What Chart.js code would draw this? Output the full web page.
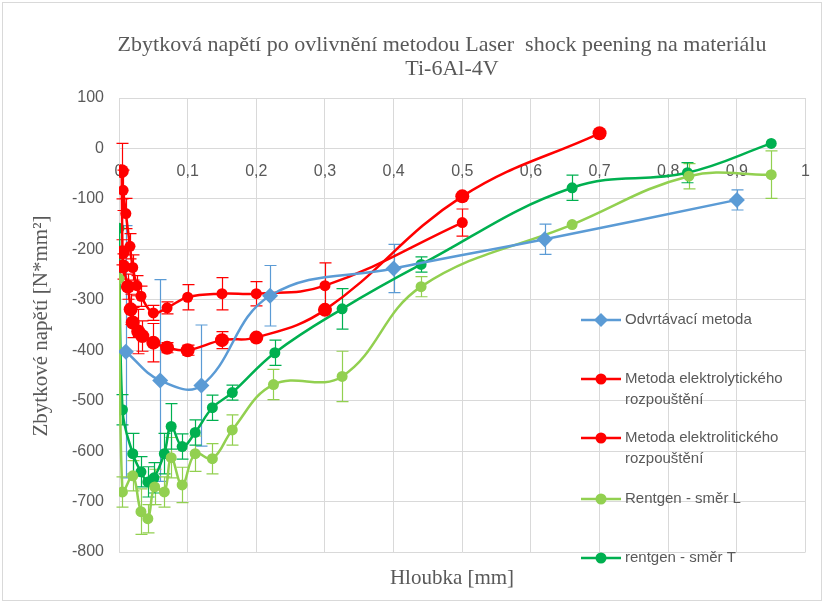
<!DOCTYPE html>
<html>
<head>
<meta charset="utf-8">
<script src="https://cdn.jsdelivr.net/npm/chart.js@4.4.0/dist/chart.umd.min.js"></script>
<style>
    html, body { margin: 0; padding: 0; background: #fff; }
</style>
</head>
<body>
<canvas id="napeti" width="824" height="603"></canvas>
<script>
    "use strict";

    // Data: depth [mm], stress [N*mm2], error (+/-)
    var odvrtX = [0.01, 0.06, 0.12, 0.22, 0.40, 0.62, 0.90];
    var odvrtY = [-403, -460, -470, -292, -238, -180, -102];
    var odvrtErr = [250, 200, 120, 60, 48, 30, 20];

    var elYtX = [0.004, 0.005, 0.006, 0.013, 0.017, 0.02, 0.028, 0.034, 0.05, 0.07, 0.1, 0.15, 0.2, 0.3, 0.5, 0.7];
    var elYtY = [-45, -206, -234, -274, -319, -345, -363, -372, -385, -395, -400, -380, -375, -320, -95, 30];
    var elYtErr = [55, 25, 25, 25, 30, 30, 44, 30, 38, 10, 10, 17, 0, 0, 0, 0];

    var elItX = [0.006, 0.01, 0.016, 0.02, 0.026, 0.032, 0.05, 0.07, 0.1, 0.15, 0.2, 0.3, 0.5];
    var elItY = [-83, -129, -194, -236, -272, -293, -326, -316, -295, -288, -288, -272, -147];
    var elItErr = [40, 30, 25, 25, 20, 20, 15, 12, 25, 32, 24, 45, 27];

    var rentLX = [0, 0.005, 0.02, 0.032, 0.042, 0.052, 0.066, 0.076, 0.092, 0.111, 0.136, 0.165, 0.225, 0.325, 0.44, 0.66, 0.83, 0.95];
    var rentLY = [-258, -681, -649, -720, -734, -671, -681, -613, -667, -605, -615, -558, -468, -452, -274, -151, -55, -52];
    var rentLErr = [0, 30, 30, 45, 28, 35, 30, 40, 35, 35, 30, 30, 30, 50, 20, 0, 25, 47];

    var rentTX = [0, 0.005, 0.02, 0.032, 0.042, 0.051, 0.066, 0.076, 0.092, 0.111, 0.136, 0.165, 0.227, 0.325, 0.44, 0.66, 0.828, 0.95];
    var rentTY = [-158, -518, -605, -641, -661, -653, -605, -551, -591, -563, -514, -484, -405, -318, -230, -78, -48, 10];
    var rentTErr = [0, 30, 40, 30, 30, 30, 40, 45, 25, 25, 25, 15, 25, 40, 15, 25, 20, 0];

    var labels = ["Odvrtávací metoda", "Metoda elektrolytického rozpouštění",
        "Metoda elektrolitického rozpouštění", "Rentgen - směr L", "rentgen - směr T"];
    var yTickMin = -800, yTickMax = 100, yStep = 100;
    var xTickMin = 0, xTickMax = 1, xStep = 0.1;

    var grey = '#595959';

    function points(xs, ys) {
        return xs.map(function (x, i) { return { x: x, y: ys[i] }; });
    }

    function series(label, xs, ys, errs, color, style, radius) {
        return {
            label: label,
            data: points(xs, ys),
            errors: errs,
            showLine: true,
            borderColor: color,
            backgroundColor: color,
            borderWidth: 2.5,
            pointStyle: style,
            pointRadius: radius,
            pointBorderWidth: 0,
            tension: 0.4
        };
    }

    // error bars, titles, legend and frame
    var extras = {
        id: 'extras',
        beforeDatasetsDraw: function (chart) {
            var ctx = chart.ctx, sx = chart.scales.x, sy = chart.scales.y;
            chart.data.datasets.forEach(function (ds) {
                ctx.save();
                ctx.strokeStyle = ds.borderColor;
                ctx.lineWidth = 1.2;
                ds.data.forEach(function (p, i) {
                    var e = ds.errors[i];
                    if (!e) return;
                    var px = Math.round(sx.getPixelForValue(p.x)) + 0.5;
                    var top = sy.getPixelForValue(p.y + e);
                    var bot = sy.getPixelForValue(p.y - e);
                    ctx.beginPath();
                    ctx.moveTo(px, top); ctx.lineTo(px, bot);
                    ctx.moveTo(px - 6, top); ctx.lineTo(px + 6, top);
                    ctx.moveTo(px - 6, bot); ctx.lineTo(px + 6, bot);
                    ctx.stroke();
                });
                ctx.restore();
            });
        },
        afterDraw: function (chart) {
            var ctx = chart.ctx;
            ctx.save();

            // frame
            ctx.strokeStyle = '#D9D9D9';
            ctx.lineWidth = 1;
            ctx.strokeRect(2.5, 2.5, 819, 598);

            // title
            ctx.fillStyle = grey;
            ctx.textAlign = 'center';
            ctx.textBaseline = 'alphabetic';
            ctx.font = '22px "Liberation Serif"';
            ctx.fillText('Zbytková napětí po ovlivnění metodou Laser  shock peening na materiálu', 442, 51, 650);
            ctx.fillText('Ti-6Al-4V', 452, 75);

            // axis titles
            ctx.font = '21px "Liberation Serif"';
            ctx.fillText('Hloubka [mm]', 452, 584);
            ctx.translate(47, 326);
            ctx.rotate(-Math.PI / 2);
            ctx.fillText('Zbytkové napětí [N*mm²]', 0, 0);
            ctx.setTransform(1, 0, 0, 1, 0, 0);

            // legend
            var rows = [320, 379, 438, 499, 558];
            ctx.font = '15px "Liberation Sans"';
            ctx.textAlign = 'left';
            ctx.textBaseline = 'middle';
            chart.data.datasets.forEach(function (ds, i) {
                var y = rows[i];
                ctx.strokeStyle = ds.borderColor;
                ctx.fillStyle = ds.borderColor;
                ctx.lineWidth = 2.5;
                ctx.beginPath();
                ctx.moveTo(581, y); ctx.lineTo(621, y);
                ctx.stroke();
                ctx.beginPath();
                if (ds.pointStyle === 'rectRot') {
                    ctx.moveTo(601, y - 7); ctx.lineTo(608, y); ctx.lineTo(601, y + 7); ctx.lineTo(594, y);
                } else {
                    ctx.arc(601, y, 5.5, 0, Math.PI * 2);
                }
                ctx.closePath();
                ctx.fill();
                ctx.fillStyle = grey;
                var words = ds.label.split(' ');
                if (words.length === 3 && words[0] === 'Metoda') {
                    ctx.fillText(words[0] + ' ' + words[1], 625, y);
                    ctx.fillText(words[2], 625, y + 21);
                } else {
                    ctx.fillText(ds.label, 625, y);
                }
            });
            ctx.restore();
        }
    };

    var chart = new Chart(document.getElementById('napeti').getContext('2d'), {
        type: 'scatter',
        data: {
            datasets: [
                series(labels[0], odvrtX, odvrtY, odvrtErr, '#5B9BD5', 'rectRot', 8),
                series(labels[1], elYtX, elYtY, elYtErr, '#FF0000', 'circle', 7),
                series(labels[2], elItX, elItY, elItErr, '#FF0000', 'circle', 5.5),
                series(labels[3], rentLX, rentLY, rentLErr, '#92D050', 'circle', 5.5),
                series(labels[4], rentTX, rentTY, rentTErr, '#00B050', 'circle', 5.5)
            ]
        },
        options: {
            responsive: false,
            animation: false,
            devicePixelRatio: 1,
            layout: { padding: { left: 59, right: 12, top: 98, bottom: 51 } },
            plugins: {
                legend: { display: false },
                title: { display: false },
                tooltip: { enabled: false }
            },
            scales: {
                x: {
                    type: 'linear',
                    min: xTickMin,
                    max: xTickMax,
                    position: { y: 0 },
                    grid: { color: '#D9D9D9', drawTicks: false },
                    border: { color: '#D9D9D9' },
                    ticks: {
                        stepSize: xStep,
                        padding: 14,
                        color: grey,
                        font: { family: 'Liberation Sans', size: 16 },
                        callback: function (v) {
                            return String(Math.round(v * 10) / 10).replace('.', ',');
                        }
                    }
                },
                y: {
                    min: yTickMin,
                    max: yTickMax,
                    grid: { color: '#D9D9D9', drawTicks: false },
                    border: { color: '#D9D9D9' },
                    ticks: {
                        stepSize: yStep,
                        padding: 15,
                        color: grey,
                        font: { family: 'Liberation Sans', size: 16 }
                    },
                    afterFit: function (scale) {
                        scale.width = 60;
                    }
                }
            }
        },
        plugins: [extras]
    });
</script>
</body>
</html>
